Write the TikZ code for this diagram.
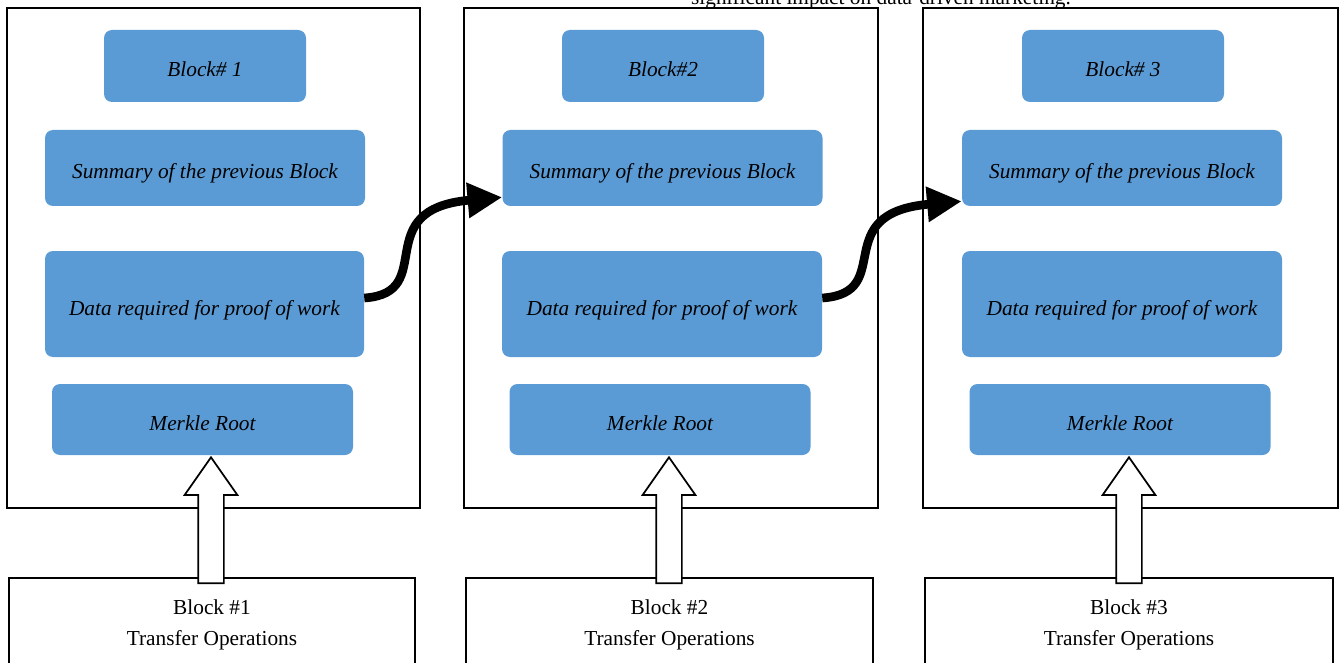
\documentclass[tikz,border=0pt]{standalone}
\usepackage{fontspec}
\setmainfont{Liberation Serif}
\usetikzlibrary{arrows.meta,shapes.arrows}
\definecolor{fieldblue}{HTML}{5B9BD5}

\tikzset{
  frame/.style={draw, line width=1.3pt, fill=none},
  field/.style={fill=fieldblue, rounded corners=6pt, inner sep=0pt, text height=20pt, text depth=3.5pt,
    font=\itshape\fontsize{16}{19}\selectfont},
  opsbox/.style={draw, line width=1.3pt, align=center, font=\fontsize{16}{23.25}\selectfont},
  feed/.style={single arrow, draw, fill=white, line width=1.3pt, rotate=90, inner xsep=0pt, inner ysep=9pt,
    single arrow head extend=10.1pt, single arrow tip angle=70, minimum height=94.5pt},
  link/.style={line width=6.5pt, -{Triangle[length=26pt,width=25pt]}}
}

\begin{document}
\begin{tikzpicture}[x=0.75pt,y=0.75pt,yscale=-1,xscale=1]
\useasboundingbox (0,0) rectangle (1339,663);

% Text Node
\node [anchor=base, font=\fontsize{16}{19}\selectfont] (caption) at (881,5) {significant impact on data-driven marketing.};

%Frames
\node [frame, minimum width=309.75pt, minimum height=375pt] (frame1) at (213.5,258) {};
\node [frame, minimum width=310.5pt, minimum height=375pt] (frame2) at (671,258) {};
\node [frame, minimum width=311.25pt, minimum height=375pt] (frame3) at (1130.5,258) {};

%Block 1
\node [field, minimum width=151.5pt, minimum height=54pt] (head1) at (205,66) {Block\# 1};
\node [field, minimum width=240pt, minimum height=57pt] (sum1) at (205,168) {Summary of the previous Block};
\node [field, minimum width=239.25pt, minimum height=79.5pt] (data1) at (204.5,304) {Data required for proof of work};
\node [field, minimum width=225.75pt, minimum height=53.25pt] (merk1) at (202.5,419.5) {Merkle Root};

%Block 2
\node [field, minimum width=151.5pt, minimum height=54pt] (head2) at (663,66) {Block\#2};
\node [field, minimum width=240pt, minimum height=57pt] (sum2) at (662.5,168) {Summary of the previous Block};
\node [field, minimum width=240pt, minimum height=79.5pt] (data2) at (662,304) {Data required for proof of work};
\node [field, minimum width=225.75pt, minimum height=53.25pt] (merk2) at (660,419.5) {Merkle Root};

%Block 3
\node [field, minimum width=151.5pt, minimum height=54pt] (head3) at (1123,66) {Block\# 3};
\node [field, minimum width=240pt, minimum height=57pt] (sum3) at (1122,168) {Summary of the previous Block};
\node [field, minimum width=240pt, minimum height=79.5pt] (data3) at (1122,304) {Data required for proof of work};
\node [field, minimum width=225.75pt, minimum height=53.25pt] (merk3) at (1120,419.5) {Merkle Root};

%Transfer operations
\node [opsbox, minimum width=304.5pt, minimum height=70pt] (ops1) at (212,625) {Block \#1\\Transfer Operations};
\node [opsbox, minimum width=305.25pt, minimum height=70pt] (ops2) at (669.5,625) {Block \#2\\Transfer Operations};
\node [opsbox, minimum width=306pt, minimum height=70pt] (ops3) at (1129,625) {Block \#3\\Transfer Operations};

%Hollow arrows
\node [feed] (feed1) at (211,529.5) {};
\node [feed] (feed2) at (669,529.5) {};
\node [feed] (feed3) at (1129,529.5) {};

%Curved arrows
\draw [link] ([yshift=-4.5pt]data1.east) .. controls +(75,-5) and +(-135,12) .. ([yshift=-6.75pt]sum2.south west);
\draw [link] ([yshift=-4.5pt]data2.east) .. controls +(75,-5) and +(-135,12) .. ([yshift=-3.75pt]sum3.south west);

\end{tikzpicture}
\end{document}
